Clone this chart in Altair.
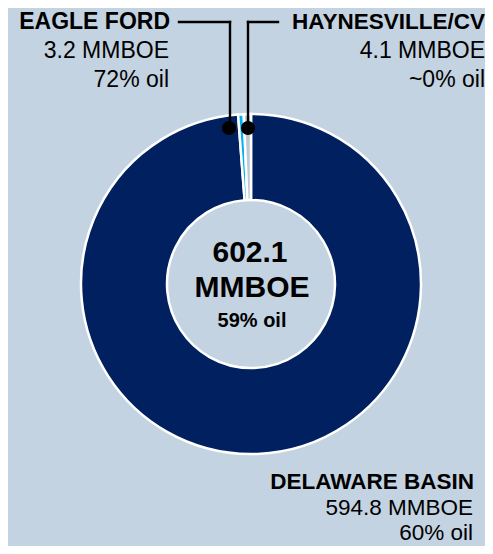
import altair as alt
import pandas as pd

# ---- data ----
regions = ["DELAWARE BASIN", "EAGLE FORD", "HAYNESVILLE/CV"]
mmboe = [594.8, 3.2, 4.1]
oil_share = ["60% oil", "72% oil", "~0% oil"]
slice_order = [0, 1, 2]
total_oil = "59% oil"

colors = ["#002060", "#00b0f0", "#bfc8d0"]

df = pd.DataFrame({"region": regions, "mmboe": mmboe, "oil": oil_share, "ord": slice_order})

W, H = 477, 538
M = 8  # page margin; positions below are given in page pixels
FONT = "Liberation Sans"


def px(v):
    return v - M


def one(region):
    return alt.Chart(df).transform_filter(alt.datum.region == region)


# donut
arc = alt.Chart(df).mark_arc(
    outerRadius=170, innerRadius=84, stroke="white", strokeWidth=2.5
).encode(
    theta=alt.Theta("mmboe:Q", stack=True),
    order=alt.Order("ord:Q"),
    color=alt.Color("region:N", scale=alt.Scale(domain=regions, range=colors), legend=None),
    x=alt.value(px(251)),
    y=alt.value(px(284)),
)


def text_layer(region, field_expr, x, y, size, bold, align):
    return (
        one(region)
        .transform_calculate(lbl=field_expr)
        .mark_text(
            font=FONT,
            fontSize=size,
            fontWeight="bold" if bold else "normal",
            align=align,
            baseline="alphabetic",
            color="black",
        )
        .encode(text="lbl:N", x=alt.value(px(x)), y=alt.value(px(y)))
    )


name_expr = "datum.region"
val_expr = "format(datum.mmboe, '.1f') + ' MMBOE'"
oil_expr = "datum.oil"

labels = [
    # Eagle Ford (top left)
    text_layer("EAGLE FORD", name_expr, 170, 29, 23, True, "right"),
    text_layer("EAGLE FORD", val_expr, 169, 58, 23, False, "right"),
    text_layer("EAGLE FORD", oil_expr, 169, 87, 23, False, "right"),
    # Haynesville (top right)
    text_layer("HAYNESVILLE/CV", name_expr, 485, 29, 22.5, True, "right"),
    text_layer("HAYNESVILLE/CV", val_expr, 485, 58, 23, False, "right"),
    text_layer("HAYNESVILLE/CV", oil_expr, 485, 87, 23, False, "right"),
    # Delaware (bottom right)
    text_layer("DELAWARE BASIN", name_expr, 474, 489, 22.5, True, "right"),
    text_layer("DELAWARE BASIN", val_expr, 473, 515, 22.5, False, "right"),
    text_layer("DELAWARE BASIN", oil_expr, 473, 540, 22.5, False, "right"),
]

# center total
total = (
    alt.Chart(df)
    .transform_aggregate(tot="sum(mmboe)")
    .transform_calculate(lbl="format(datum.tot, '.1f')")
    .mark_text(font=FONT, fontSize=30, fontWeight="bold", align="center", baseline="alphabetic", color="black")
    .encode(text="lbl:N", x=alt.value(px(250)), y=alt.value(px(262)))
)
total_unit = (
    alt.Chart(df)
    .transform_aggregate(tot="sum(mmboe)")
    .transform_calculate(lbl="'MMBOE'")
    .mark_text(font=FONT, fontSize=30, fontWeight="bold", align="center", baseline="alphabetic", color="black")
    .encode(text="lbl:N", x=alt.value(px(252)), y=alt.value(px(297)))
)
total_oil_t = (
    alt.Chart(df)
    .transform_aggregate(tot="sum(mmboe)")
    .transform_calculate(lbl="'" + total_oil + "'")
    .mark_text(font=FONT, fontSize=20, fontWeight="bold", align="center", baseline="alphabetic", color="black")
    .encode(text="lbl:N", x=alt.value(px(252)), y=alt.value(px(327)))
)


def rule(region, x1, y1, x2, y2):
    return one(region).mark_rule(color="black", strokeWidth=2.4, strokeCap="square").encode(
        x=alt.value(px(x1)), x2=alt.value(px(x2)), y=alt.value(px(y1)), y2=alt.value(px(y2))
    )


def dot(region, x, y):
    return one(region).mark_point(filled=True, color="black", opacity=1, size=200, shape="circle").encode(
        x=alt.value(px(x)), y=alt.value(px(y))
    )


leaders = [
    rule("EAGLE FORD", 179, 22, 230, 22),
    rule("EAGLE FORD", 230, 22, 230, 127),
    dot("EAGLE FORD", 229, 128),
    rule("HAYNESVILLE/CV", 248, 22, 278, 22),
    rule("HAYNESVILLE/CV", 248, 22, 248, 127),
    dot("HAYNESVILLE/CV", 248, 128),
]

chart = (
    alt.layer(arc, *leaders, *labels, total, total_unit, total_oil_t)
    .properties(width=W, height=H, padding=0, autosize=alt.AutoSizeParams(type="none"), background="#c4d3e1")
    .configure_view(stroke=None)
)

chart.save("out.html", embed_options={"renderer": "svg", "actions": False})
